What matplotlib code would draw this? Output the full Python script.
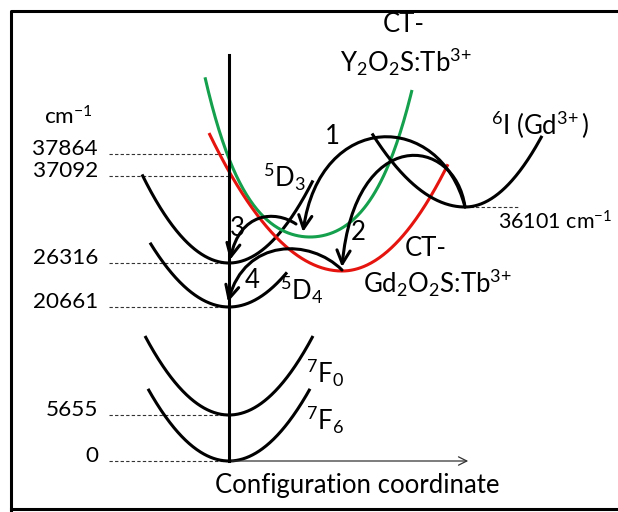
import numpy as np
import matplotlib
matplotlib.use('Agg')
import matplotlib.pyplot as plt
from matplotlib.patches import FancyArrowPatch
from matplotlib.path import Path

plt.rcParams['font.family'] = ['Lato', 'DejaVu Sans']
plt.rcParams['mathtext.fontset'] = 'custom'
plt.rcParams['mathtext.rm'] = 'Lato'
plt.rcParams['mathtext.it'] = 'Lato:italic'
plt.rcParams['mathtext.default'] = 'regular'

#################### data (diagram units: x = config. coordinate, y = energy height) ####################
level_labels = ['0', '5655', '20661', '26316', '37092', '37864']
level_heights = [0, 46, 154, 198, 285, 307]

gd_label = '36101 cm$^{-1}$'
gd_height = 254

# potential curves: vertex, left / right curvature, quartic term, x range
curve_names = ['7F6', '7F0', '5D4', '5D3', 'CT_Y', 'CT_Gd', '6I']
curve_x0 = [0, 0, 0, 0, 81, 113, 236]
curve_y0 = [0, 46, 154, 198, 224, 190, 254]
curve_kl = [0.011, 0.0112, 0.0103, 0.0117, 0.0082, 0.0078, 0.0085]
curve_kr = [0.011, 0.0112, 0.0103, 0.0117, 0.0082, 0.0095, 0.012]
curve_k4 = [0, 0, 0, 0, 5.7e-7, 0, 0]
curve_xmin = [-81, -84, -79, -87, -24, -20, 143]
curve_xmax = [81, 84, 58, 84, 183, 219, 313]
curve_colors = ['black', 'black', 'black', 'black', '#14A04C', '#E5140E', 'black']

# relaxation arrows (cubic bezier control points)
arrow_names = ['1', '2', '3', '4']
arrow_paths = [
    [(236, 254), (211, 351), (91, 351), (74, 229)],
    [(236, 254), (226, 326), (126, 336), (113, 194)],
    [(67, 237), (46, 251), (11, 249), (1, 201)],
    [(113, 191), (81, 223), (16, 223), (-1, 159)],
]
arrow_label_pos = [(103, 324), (129, 229), (8, 233), (23, 181)]


def curve_y(i, x):
    dx = x - curve_x0[i]
    k = np.where(dx < 0, curve_kl[i], curve_kr[i])
    return curve_y0[i] + k * dx**2 + curve_k4[i] * dx**4


#################### figure ####################
fig = plt.figure(figsize=(6.18, 5.12), dpi=100)
ax = fig.add_axes([0, 0, 1, 1])
ax.set_xlim(-229, 389)
ax.set_ylim(-51, 461)
ax.axis('off')

fs = 18.5     # words
fs_num = 16.2  # level values

# frame
ax.plot([-218, -218, 400], [-49, 450, 450], color='black', lw=2.2, clip_on=False)
ax.plot([-218, 400], [-48, -48], color='black', lw=2.2, clip_on=False)

# vertical axis and horizontal arrow
ax.plot([0, 0], [0, 406], color='black', lw=2.2, zorder=3)
ax.annotate('', xy=(242, 0), xytext=(0, 0),
            arrowprops=dict(arrowstyle='->,head_length=0.6,head_width=0.3', color='#333333', lw=0.9))
ax.text(128, -24, 'Configuration coordinate', fontsize=fs, ha='center', va='center')

# level lines and labels
for lab, h in zip(level_labels, level_heights):
    ax.plot([-120, 0], [h, h], color='#333333', lw=0.8, ls=(0, (3, 2)))
    ax.text(-131, h + 5, lab, fontsize=fs_num, ha='right', va='center')
ax.text(-161, 344, 'cm$^{-1}$', fontsize=fs_num, ha='center', va='center')

ax.plot([241, 291], [gd_height, gd_height], color='#333333', lw=0.8, ls=(0, (3, 2)))
ax.text(326, 239, gd_label, fontsize=15.5, ha='center', va='center')

# curves
for i in range(len(curve_names)):
    x = np.linspace(curve_xmin[i], curve_xmax[i], 300)
    ax.plot(x, curve_y(i, x), color=curve_colors[i], lw=2.2, solid_capstyle='butt', zorder=2)

# curve labels
ax.text(96, 88, '$^7$F$_0$', fontsize=fs, ha='center', va='center')
ax.text(96, 41, '$^7$F$_6$', fontsize=fs, ha='center', va='center')
ax.text(73, 171, '$^5$D$_4$', fontsize=fs, ha='center', va='center')
ax.text(55, 284, '$^5$D$_3$', fontsize=fs, ha='center', va='center')
ax.text(311, 336, '$^6$I (Gd$^{3\\!+}$)', fontsize=fs, ha='center', va='center')
ax.text(175, 436, 'CT-', fontsize=fs, ha='center', va='center')
ax.text(177, 399, 'Y$_2$O$_2$S:Tb$^{3\\!+}$', fontsize=fs, ha='center', va='center')
ax.text(197, 213, 'CT-', fontsize=fs, ha='center', va='center')
ax.text(209, 178, 'Gd$_2$O$_2$S:Tb$^{3\\!+}$', fontsize=fs, ha='center', va='center')

# arrows
for name, pts, lp in zip(arrow_names, arrow_paths, arrow_label_pos):
    p = Path(pts, [Path.MOVETO, Path.CURVE4, Path.CURVE4, Path.CURVE4])
    arr = FancyArrowPatch(path=p, arrowstyle='->,head_length=0.5,head_width=0.25',
                          mutation_scale=19, color='black', lw=2.2, zorder=4)
    ax.add_patch(arr)
    ax.text(lp[0], lp[1], name, fontsize=fs, ha='center', va='center', zorder=5)

fig.savefig('out.png', dpi=100)
